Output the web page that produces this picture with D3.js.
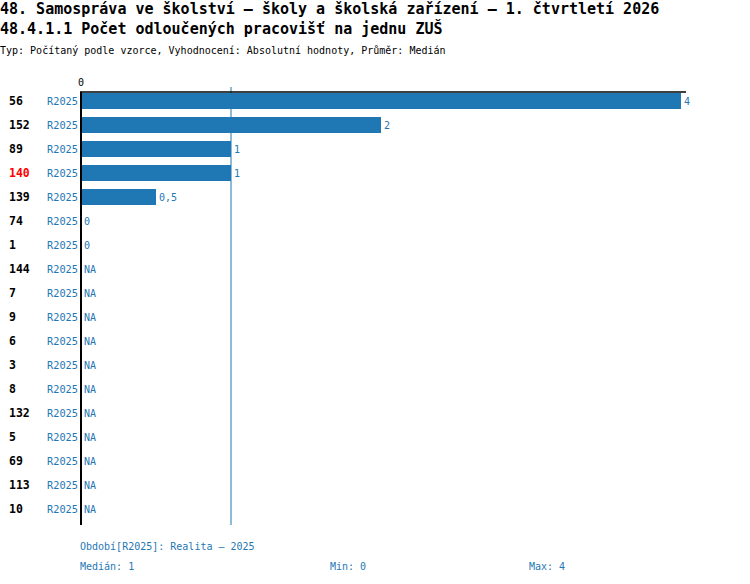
<!DOCTYPE html>
<html>
<head>
<meta charset="utf-8">
<script src="https://cdn.jsdelivr.net/npm/d3@7"></script>
<style>
  body { margin: 0; background: #fff; }
  text { font-family: "DejaVu Sans Mono", monospace; }
</style>
</head>
<body>
<div id="chart"></div>
<script>
var titles = [
  "48. Samospráva ve školství – školy a školská zařízení – 1. čtvrtletí 2026",
  "48.4.1.1 Počet odloučených pracovišť na jednu ZUŠ"
];
var subtitle = "Typ: Počítaný podle vzorce, Vyhodnocení: Absolutní hodnoty, Průměr: Medián";

var ranks = ["56", "152", "89", "140", "139", "74", "1", "144", "7", "9", "6", "3", "8", "132", "5", "69", "113", "10"];
var values = [4, 2, 1, 1, 0.5, 0, 0, null, null, null, null, null, null, null, null, null, null, null];
var period = "R2025";
var highlighted = "140";

var median = 1;
var minVal = 0;
var maxVal = 4;

var width = 750;
var height = 584;
var blue = "#1f77b4";

var locale = d3.formatLocale({ decimal: ",", thousands: " ", grouping: [3], currency: ["", ""] });
var fmt = locale.format("~g");

var svg = d3
  .select("#chart")
  .append("svg")
  .attr("width", width)
  .attr("height", height);

// titles
svg
  .selectAll("text.title")
  .data(titles)
  .join("text")
  .attr("class", "title")
  .attr("x", 0)
  .attr("y", (d, i) => 14 + i * 20)
  .attr("font-size", 15)
  .attr("font-weight", "bold")
  .text((d) => d);

svg
  .append("text")
  .attr("x", 0)
  .attr("y", 54)
  .attr("font-size", 10)
  .text(subtitle);

var x = d3.scaleLinear().domain([0, 4]).range([81, 681]);

var y = d3
  .scaleBand()
  .domain(d3.range(ranks.length))
  .range([89, 89 + 24 * ranks.length])
  .paddingInner(1 / 3)
  .paddingOuter(1 / 6);

var bottom = 525;

// median line
svg
  .append("line")
  .attr("x1", x(median))
  .attr("x2", x(median))
  .attr("y1", 87)
  .attr("y2", bottom)
  .attr("stroke", blue)
  .attr("stroke-width", 1);

// bars
svg
  .append("g")
  .selectAll("rect")
  .data(values)
  .join("rect")
  .attr("x", x(0) + 1)
  .attr("y", (d, i) => y(i))
  .attr("width", (d) => (d ? x(d) - x(0) - 1 : 0))
  .attr("height", y.bandwidth())
  .attr("fill", blue);

// value labels
svg
  .append("g")
  .selectAll("text")
  .data(values)
  .join("text")
  .attr("x", (d) => (d ? x(d) + 3 : x(0) + 3))
  .attr("y", (d, i) => y(i) + y.bandwidth() / 2)
  .attr("dy", "0.35em")
  .attr("font-size", 10)
  .attr("fill", blue)
  .text((d) => (d === null ? "NA" : fmt(d)));

// rank labels
svg
  .append("g")
  .selectAll("text")
  .data(ranks)
  .join("text")
  .attr("x", 9)
  .attr("y", (d, i) => y(i) + y.bandwidth() / 2)
  .attr("dy", "0.35em")
  .attr("font-size", 11.5)
  .attr("font-weight", "bold")
  .attr("fill", (d) => (d === highlighted ? "red" : "black"))
  .text((d) => d);

// period labels
svg
  .append("g")
  .selectAll("text")
  .data(ranks)
  .join("text")
  .attr("x", 78)
  .attr("y", (d, i) => y(i) + y.bandwidth() / 2)
  .attr("dy", "0.35em")
  .attr("text-anchor", "end")
  .attr("font-size", 10.3)
  .attr("fill", blue)
  .text(period);

// axes
svg
  .append("line")
  .attr("x1", x(0) - 1)
  .attr("x2", x(4) + 5)
  .attr("y1", 92)
  .attr("y2", 92)
  .attr("stroke", "black")
  .attr("stroke-width", 1.5);

svg
  .append("line")
  .attr("x1", x(0))
  .attr("x2", x(0))
  .attr("y1", 92)
  .attr("y2", bottom)
  .attr("stroke", "black")
  .attr("stroke-width", 2);

svg
  .append("text")
  .attr("x", x(0))
  .attr("y", 86)
  .attr("text-anchor", "middle")
  .attr("font-size", 10)
  .text("0");

// footer
svg
  .append("text")
  .attr("x", 80)
  .attr("y", 550)
  .attr("font-size", 10)
  .attr("fill", blue)
  .text("Období[" + period + "]: Realita – 2025");

var stats = [
  { label: "Medián: " + fmt(median), x: 80 },
  { label: "Min: " + fmt(minVal), x: 330 },
  { label: "Max: " + fmt(maxVal), x: 529 }
];

svg
  .append("g")
  .selectAll("text")
  .data(stats)
  .join("text")
  .attr("x", (d) => d.x)
  .attr("y", 570)
  .attr("font-size", 10)
  .attr("fill", blue)
  .text((d) => d.label);
</script>
</body>
</html>
